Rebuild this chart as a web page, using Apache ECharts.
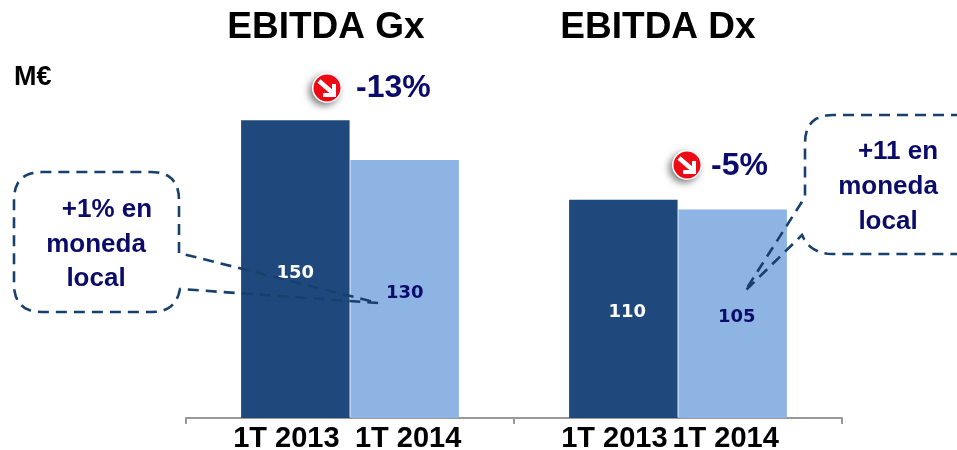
<!DOCTYPE html>
<html><head><meta charset="utf-8">
<style>html,body{margin:0;padding:0;background:#fff}#c{width:957px;height:450px}</style>
<script src="https://cdn.jsdelivr.net/npm/echarts@6/dist/echarts.min.js"></script>
</head><body><div id="c"></div>
<script>
const categories = ['', '1T 2013', '1T 2014', '', '1T 2013', '1T 2014', ''];
const ebitdaValues = [null, 150, 130, null, 110, 105, null];
const panelTitles = ['EBITDA Gx', 'EBITDA Dx'];
const unitLabel = 'M€';
const changeLabels = ['-13%', '-5%'];
const noteLeft = ['+1% en', 'moneda', 'local'];
const noteRight = ['+11 en', 'moneda', 'local'];

const DARK = '#1F497D', LIGHT = '#8EB4E3', NAVY = '#0B0B6B', DASH = '#17406D';
const isDark = i => i === 1 || i === 4;
const SANS = '"Liberation Sans", Arial, sans-serif';

function txt(x, y, text, size, fill, align) {
  return {type:'text', x, y, z:20, style:{text, font:'bold '+size+'px '+SANS, fill, align:align||'center', verticalAlign:'middle'}};
}
function badge(cx, cy) {
  return {type:'group', x:cx, y:cy, z:20, children:[
    {type:'circle', shape:{r:15}, style:{fill:'#fff', shadowBlur:7, shadowColor:'rgba(0,0,0,0.5)', shadowOffsetX:-3, shadowOffsetY:3}},
    {type:'circle', shape:{r:13.5}, style:{fill:'#EE0A14'}},
    {type:'polyline', shape:{points:[[-8,-7],[7,6]]}, style:{stroke:'#fff', lineWidth:4.5, fill:null}},
    {type:'polyline', shape:{points:[[7,-4],[7,7],[-4,7]]}, style:{stroke:'#fff', lineWidth:4, fill:null}}
  ]};
}
function corner(a, c, b) {
  const pts = [];
  for (let k = 0; k <= 8; k++) {
    const t = k / 8, u = 1 - t;
    pts.push([u*u*a[0] + 2*u*t*c[0] + t*t*b[0], u*u*a[1] + 2*u*t*c[1] + t*t*b[1]]);
  }
  return pts;
}
function dashed(points) {
  return {type:'polyline', z:15, shape:{points}, style:{fill:null, stroke:DASH, lineWidth:2.6, lineDash:[11,7]}};
}
const calloutLeft = [[179,253],
  ...corner([179,200],[179,172],[151,172]),
  ...corner([42,172],[14,172],[14,200]),
  ...corner([14,284],[14,312],[42,312]),
  ...corner([152,312],[176,312],[180,289]),
  [378,303],[179,253]];
const calloutRight = [[962,115],
  ...corner([833,115],[805,115],[805,143]),
  [805,197],[745,291],
  ...corner([802,235],[810,254],[833,254]),
  [962,254]];

const labelFont = {fontFamily:SANS, fontWeight:'bold', fontSize:29, color:'#000', height:30};
const chart = echarts.init(document.getElementById('c'), null, {renderer:'canvas'});
chart.setOption({
  animation:false,
  backgroundColor:'#fff',
  grid:{left:186, width:656, top:21, height:397, outerBoundsMode:'none', containLabel:false},
  title:[
    {text:panelTitles[0], left:321, top:4, textAlign:'center', textStyle:{fontFamily:SANS, fontWeight:'bold', fontSize:37, color:'#000'}},
    {text:panelTitles[1], left:653, top:4, textAlign:'center', textStyle:{fontFamily:SANS, fontWeight:'bold', fontSize:37, color:'#000'}}
  ],
  xAxis:{type:'category', data:categories, boundaryGap:false,
    axisLine:{show:true, onZero:false, lineStyle:{color:'#999', width:2}},
    axisTick:{show:true, length:6, alignWithLabel:true, interval:(i)=>i%3===0, lineStyle:{color:'#999', width:2}},
    axisLabel:{interval:0, hideOverlap:false, margin:6, showMinLabel:true, showMaxLabel:true,
      formatter:(v,i)=> v ? ((i===1||i===4)?'{a|'+v+'}':(i===2?'{b|'+v+'}':'{c|'+v+'}')) : '',
      rich:{
        a:{...labelFont, padding:[0,18,0,0]},
        b:{...labelFont, padding:[0,0,0,7]},
        c:{...labelFont, padding:[0,14,0,0]}
      }}
  },
  yAxis:{type:'value', min:0, max:200, show:false, splitLine:{show:false}},
  series:[{
    type:'bar', barWidth:108.5, clip:false,
    data:ebitdaValues.map((v,i)=> v==null ? null : ({
      value:v,
      itemStyle:{color:isDark(i)?DARK:LIGHT},
      label:{color:isDark(i)?'#fff':NAVY, offset:[i>3?4:0, 4]}
    })),
    label:{show:true, position:'inside', fontFamily:'"DejaVu Sans", sans-serif', fontWeight:'bold', fontSize:18}
  }],
  graphic:[
    txt(14,78,unitLabel,27,'#000','left'),
    badge(327,88), txt(356,88,changeLabels[0],32,NAVY,'left'),
    badge(687,165), txt(711,166,changeLabels[1],32,NAVY,'left'),
    dashed(calloutLeft),
    dashed(calloutRight),
    txt(107,210,noteLeft[0],26,NAVY), txt(96,245,noteLeft[1],26,NAVY), txt(96,279,noteLeft[2],26,NAVY),
    txt(898,152,noteRight[0],26,NAVY), txt(888,187,noteRight[1],26,NAVY), txt(888,222,noteRight[2],26,NAVY)
  ]
});
</script></body></html>
